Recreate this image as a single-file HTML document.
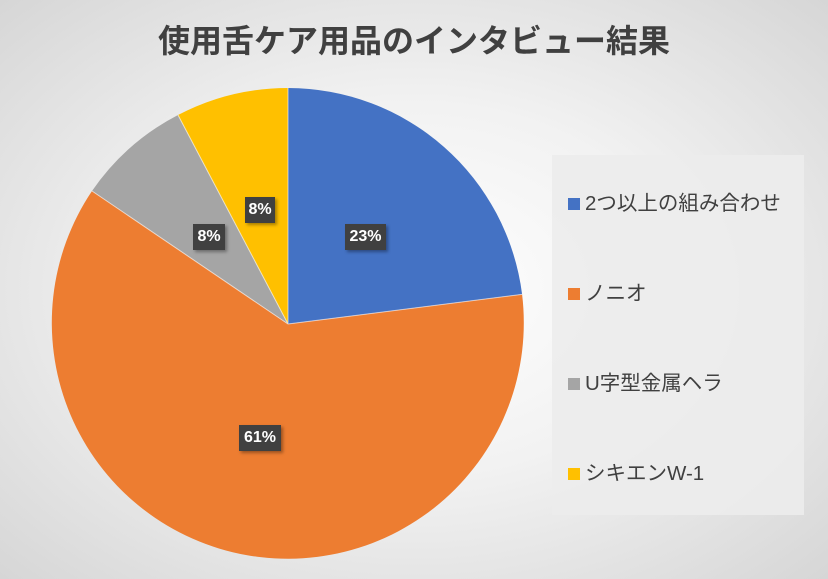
<!DOCTYPE html>
<html><head><meta charset="utf-8"><style>
body{margin:0;width:828px;height:579px;overflow:hidden;background:radial-gradient(ellipse at 50% 50%,#ffffff 0%,#f2f2f2 45%,#d6d6d6 100%);font-family:"Liberation Sans","Noto Sans CJK JP",sans-serif;position:relative}
.t{position:absolute;left:0;width:828px;top:16px;text-align:center;font-size:32px;font-weight:bold;color:#404040}
.lg{position:absolute;left:552px;top:155px;width:252px;height:360px;background:rgba(236,236,236,0.9)}
.li{position:absolute;left:16px;font-size:20.5px;color:#404040;white-space:nowrap}
.li span{display:inline-block;width:12px;height:12px;margin-right:5px;vertical-align:0px}
.lb{position:absolute;background:#404040;color:#fff;font-weight:bold;font-size:16px;text-align:center;line-height:26px;height:26px;box-shadow:2px 2px 3px rgba(0,0,0,.35)}
</style></head><body>
<div class="t">使用舌ケア用品のインタビュー結果</div>
<svg width="828" height="579" style="position:absolute;left:0;top:0">
<path d="M288,324 L288,88 A236,236 0 0 1 522.1,294.4 Z" fill="#4472c4"/>
<path d="M288,324 L522.1,294.4 A236,236 0 1 1 92,191 Z" fill="#ed7d31"/>
<path d="M288,324 L92,191 A236,236 0 0 1 178,115 Z" fill="#a5a5a5"/>
<path d="M288,324 L178,115 A236,236 0 0 1 288,88 Z" fill="#ffc000"/>
<g stroke="#fff" stroke-width="1" fill="none" opacity="0.6"><line x1="288" y1="324" x2="288" y2="88"/><line x1="288" y1="324" x2="522.1" y2="294.4"/><line x1="288" y1="324" x2="92" y2="191"/><line x1="288" y1="324" x2="178" y2="115"/></g>
</svg>
<div class="lb" style="left:245px;top:197px;width:30px">8%</div>
<div class="lb" style="left:193px;top:224px;width:32px">8%</div>
<div class="lb" style="left:345px;top:224px;width:41px">23%</div>
<div class="lb" style="left:239px;top:425px;width:42px">61%</div>
<div class="lg">
<div class="li" style="top:31px"><span style="background:#4472c4"></span>2つ以上の組み合わせ</div>
<div class="li" style="top:121px"><span style="background:#ed7d31"></span>ノニオ</div>
<div class="li" style="top:211px"><span style="background:#a5a5a5"></span>U字型金属ヘラ</div>
<div class="li" style="top:301px"><span style="background:#ffc000"></span>シキエンW-1</div>
</div>
</body></html>
